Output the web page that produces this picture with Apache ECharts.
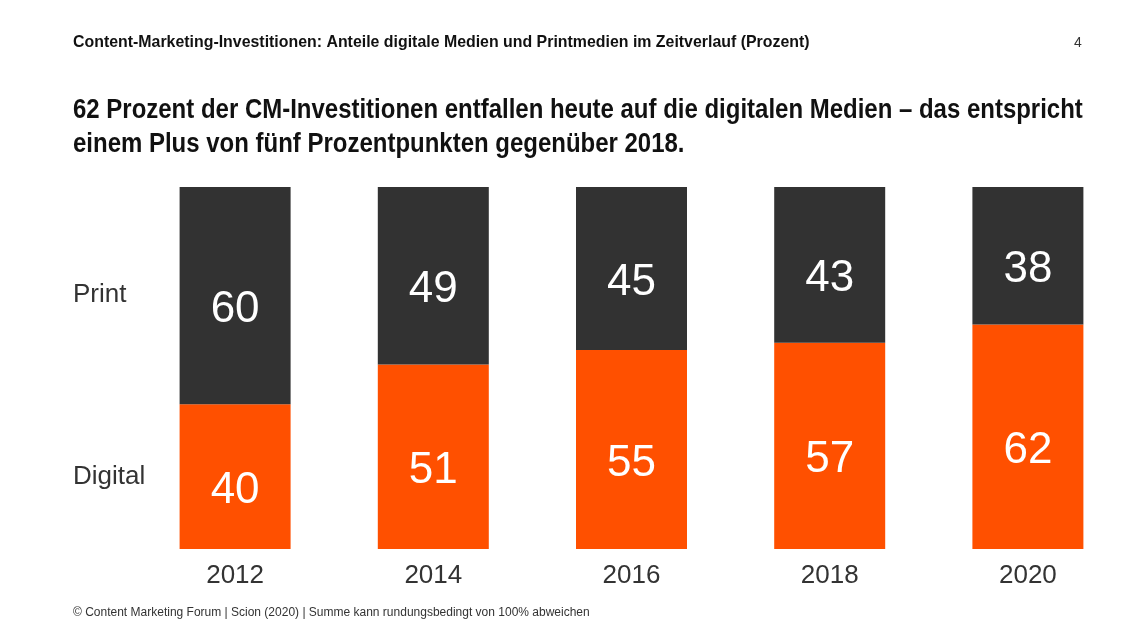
<!DOCTYPE html>
<html><head><meta charset="utf-8">
<script src="https://cdn.jsdelivr.net/npm/echarts@6/dist/echarts.min.js"></script>
<style>html,body{margin:0;padding:0;background:#fff}#c{width:1127px;height:628px}</style>
</head><body><div id="c"></div>
<script>
const years = ['2012', '2014', '2016', '2018', '2020'];
const digital = [40, 51, 55, 57, 62];
const print = [60, 49, 45, 43, 38];

const chart = echarts.init(document.getElementById('c'));
const cond = '"Liberation Sans", Arial, sans-serif';
const lbl = {show: true, color: '#fff', fontSize: 44, offset: [0, 14], fontFamily: '"Liberation Sans", Arial, sans-serif'};
chart.setOption({
    animation: false,
    grid: {left: 136, right: 0, top: 187, bottom: 79},
    xAxis: {
        type: 'category', data: years,
        axisLine: {show: false}, axisTick: {show: false},
        axisLabel: {color: '#333', fontSize: 26, margin: 14, fontFamily: '"Liberation Sans", Arial, sans-serif'}
    },
    yAxis: {type: 'value', min: 0, max: 100, show: false},
    series: [
        {name: 'Digital', type: 'bar', stack: 's', data: digital, barWidth: 111,
         itemStyle: {color: '#FF5000'}, label: lbl},
        {name: 'Print', type: 'bar', stack: 's', data: print, barWidth: 111,
         itemStyle: {color: '#323232'}, label: lbl}
    ],
    graphic: [
        {type: 'text', x: 73, y: 34, scaleX: 0.935, style: {text: 'Content-Marketing-Investitionen: Anteile digitale Medien und Printmedien im Zeitverlauf (Prozent)',
            font: 'bold 17px ' + cond, fill: '#111'}},
        {type: 'text', left: 1074, top: 36, style: {text: '4', font: '14px "Liberation Sans", Arial', fill: '#333'}},
        {type: 'text', x: 73, y: 94, scaleX: 0.888, style: {text: '62 Prozent der CM-Investitionen entfallen heute auf die digitalen Medien – das entspricht\neinem Plus von fünf Prozentpunkten gegenüber 2018.',
            font: 'bold 27px ' + cond, fill: '#111', lineHeight: 34}},
        {type: 'text', left: 73, top: 282, style: {text: 'Print', font: '26px "Liberation Sans", Arial', fill: '#333'}},
        {type: 'text', left: 73, top: 464, style: {text: 'Digital', font: '26px "Liberation Sans", Arial', fill: '#333'}},
        {type: 'text', left: 73, top: 607, style: {text: '© Content Marketing Forum | Scion (2020) | Summe kann rundungsbedingt von 100% abweichen',
            font: '12px "Liberation Sans", Arial', fill: '#333'}}
    ]
});
</script></body></html>
